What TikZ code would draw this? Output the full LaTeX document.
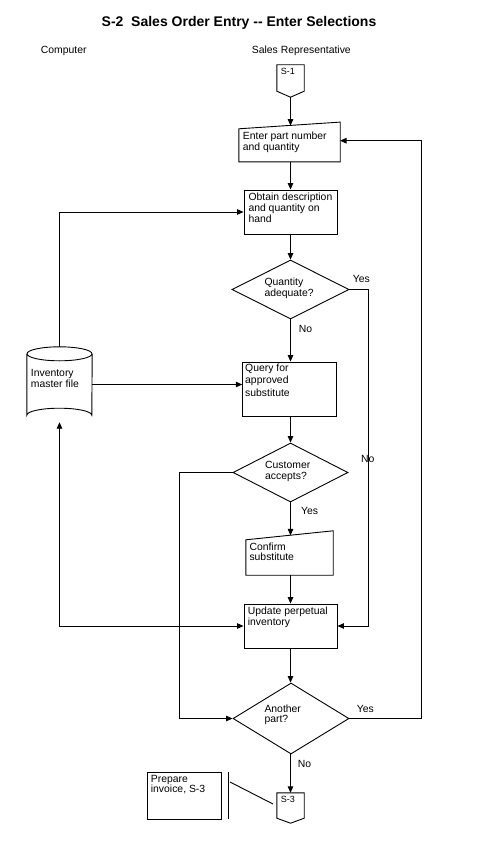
\documentclass[tikz,border=0pt]{standalone}
\usepackage{fontspec}
\setmainfont{Liberation Sans}
\usetikzlibrary{arrows.meta,shapes.geometric,calc}
\newcommand\mlines[1]{\begin{tabular}[t]{@{}l@{}}#1\end{tabular}}
\begin{document}
\begin{tikzpicture}[x=1pt,y=-1pt,
  ln/.style={line width=0.9pt},
  tip/.tip={Triangle[length=6.5pt,width=5.5pt]},
  arr/.style={ln,-tip},
  box/.style={draw,ln,rectangle,inner sep=0pt},
  ghost/.style={rectangle,inner sep=0pt,draw=none},
  dia/.style={draw,ln,diamond,inner sep=0pt},
  txt/.style={font=\fontsize{10.4}{#1}\selectfont,inner sep=0pt,anchor=base west},
  txt/.default=10.7,
  ctxt/.style={font=\fontsize{9}{10}\selectfont,inner sep=0pt,anchor=base west}]
\useasboundingbox (0,0) rectangle (478,848);
\fill[white] (0,0) rectangle (478,848);

% headings
\node[font=\bfseries\fontsize{14}{16}\selectfont,inner sep=0pt,anchor=base] (title) at (239,26.7) {S-2\ \ Sales Order Entry -{}- Enter Selections};
\node[txt] (comp) at (40.7,53.3) {Computer};
\node[txt] (rep) at (251.7,53.3) {Sales Representative};

% shapes
\node[ghost,minimum width=27pt,minimum height=32pt] (s1) at (290.5,81) {};
\draw[ln] (s1.south) -- ($(s1.south west)+(0,-6)$) -- (s1.north west) -- (s1.north east) -- ($(s1.south east)+(0,-6)$) -- cycle;
\node[ctxt] (s1t) at (280.7,75) {S-1};

\node[ghost,minimum width=101pt,minimum height=39.4pt] (enter) at (289.5,142) {};
\draw[ln] (enter.south west) -- ($(enter.north west)+(0,6.7)$) -- (enter.north east) -- (enter.south east) -- cycle;
\coordinate (enterin) at (290.5,125.6);
\coordinate (enterR) at (340,140.7);
\node[txt=10] (entert) at (242.7,139.5) {\mlines{Enter part number\\and quantity}};

\node[box,minimum width=93pt,minimum height=44pt] (obtain) at (290.5,212) {};
\node[txt=11.2] (obtaint) at (248.3,200.3) {\mlines{Obtain description\\and quantity on\\hand}};

\node[dia,minimum width=117pt,minimum height=59pt] (qa) at (290.5,289.5) {};
\node[txt=11] (qat) at (264.3,285) {\mlines{Quantity\\adequate?}};
\node[txt] (qayes) at (352.7,282.3) {Yes};
\node[txt] (qano) at (298.7,332.7) {No};

\node[box,minimum width=94pt,minimum height=54pt] (query) at (289.7,389) {};
\node[txt=12.5] (queryt) at (245,371) {\mlines{Query for\\approved\\substitute}};

\node[ghost,minimum width=65pt,minimum height=75pt] (inv) at (59.5,384.5) {};
\draw[ln] ($(inv.north)+(0,7)$) ellipse [x radius=32.5pt, y radius=7pt];
\draw[ln] ($(inv.north west)+(0,7)$) -- ($(inv.south west)+(0,-7)$) arc[start angle=180,end angle=0,x radius=32.5pt,y radius=7pt] -- ($(inv.north east)+(0,7)$);
\node[txt=10] (invt) at (30.7,376.7) {\mlines{Inventory\\master file}};

\node[dia,minimum width=115pt,minimum height=59pt] (ca) at (290.5,472.5) {};
\node[txt=10.7] (cat) at (265,468.3) {\mlines{Customer\\accepts?}};
\node[txt] (cayes) at (301,514) {Yes};
\node[txt] (cano) at (361,462.7) {No};

\node[ghost,minimum width=87pt,minimum height=44pt] (confirm) at (289.5,553) {};
\draw[ln] (confirm.south west) -- ($(confirm.north west)+(0,9)$) -- (confirm.north east) -- (confirm.south east) -- cycle;
\coordinate (confin) at (290.5,535.4);
\node[txt=10.7] (confirmt) at (249.3,550) {\mlines{Confirm\\substitute}};

\node[box,minimum width=93pt,minimum height=44pt] (update) at (290.5,626) {};
\node[txt=10.7] (updatet) at (247.7,614.8) {\mlines{Update perpetual\\inventory}};

\node[dia,minimum width=116pt,minimum height=71pt] (ap) at (291,718.5) {};
\node[txt=10.4] (apt) at (264.3,712.3) {\mlines{Another\\part?}};
\node[txt] (apyes) at (356.7,712.7) {Yes};
\node[txt] (apno) at (297.7,767.7) {No};

\node[ghost,minimum width=27pt,minimum height=30pt] (s3) at (290.5,808) {};
\draw[ln] (s3.south) -- ($(s3.south west)+(0,-5)$) -- (s3.north west) -- (s3.north east) -- ($(s3.south east)+(0,-5)$) -- cycle;
\node[ctxt] (s3t) at (280.7,802.7) {S-3};

\node[box,minimum width=74pt,minimum height=47pt] (prep) at (184,795.5) {};
\node[txt=10.6] (prept) at (150.7,782) {\mlines{Prepare\\invoice, S-3}};

% annotation
\coordinate (an1) at (228,772);
\coordinate (an2) at (228,819);
\coordinate (an3) at (230,782);
\coordinate (an4) at (273,804);
\draw[ln] (an1) -- (an2);
\draw[ln] (an3) -- (an4);

% connectors
\draw[arr] (s1.south) -- (enterin);
\draw[arr] (enter.south -| enterin) -- (obtain.north);
\draw[arr] (obtain.south) -- (qa.north);
\draw[arr] (qa.south) -- (query.north -| qa.south);
\draw[arr] (query.south -| qa.south) -- (ca.north);
\draw[arr] (ca.south) -- (confin);
\draw[arr] (confirm.south -| confin) -- (update.north);
\draw[arr] (update.south) -- (ap.north -| update.south);
\draw[arr] (ap.south -| update.south) -- (s3.north);

\draw[arr] (inv.north) |- (obtain.west);
\draw[arr] (inv.east) -- (inv.east -| query.west);
\draw[ln,tip-tip] (inv.south) |- (update.west);

\coordinate (qy) at (368,289.5);
\draw[arr] (qa.east) -- (qy) |- (update.east);

\coordinate (cl) at (179,472.5);
\draw[arr] (ca.west) -- (cl) |- (ap.west);

\coordinate (ay) at (421,718.5);
\draw[arr] (ap.east) -- (ay) |- (enterR);
\end{tikzpicture}
\end{document}
